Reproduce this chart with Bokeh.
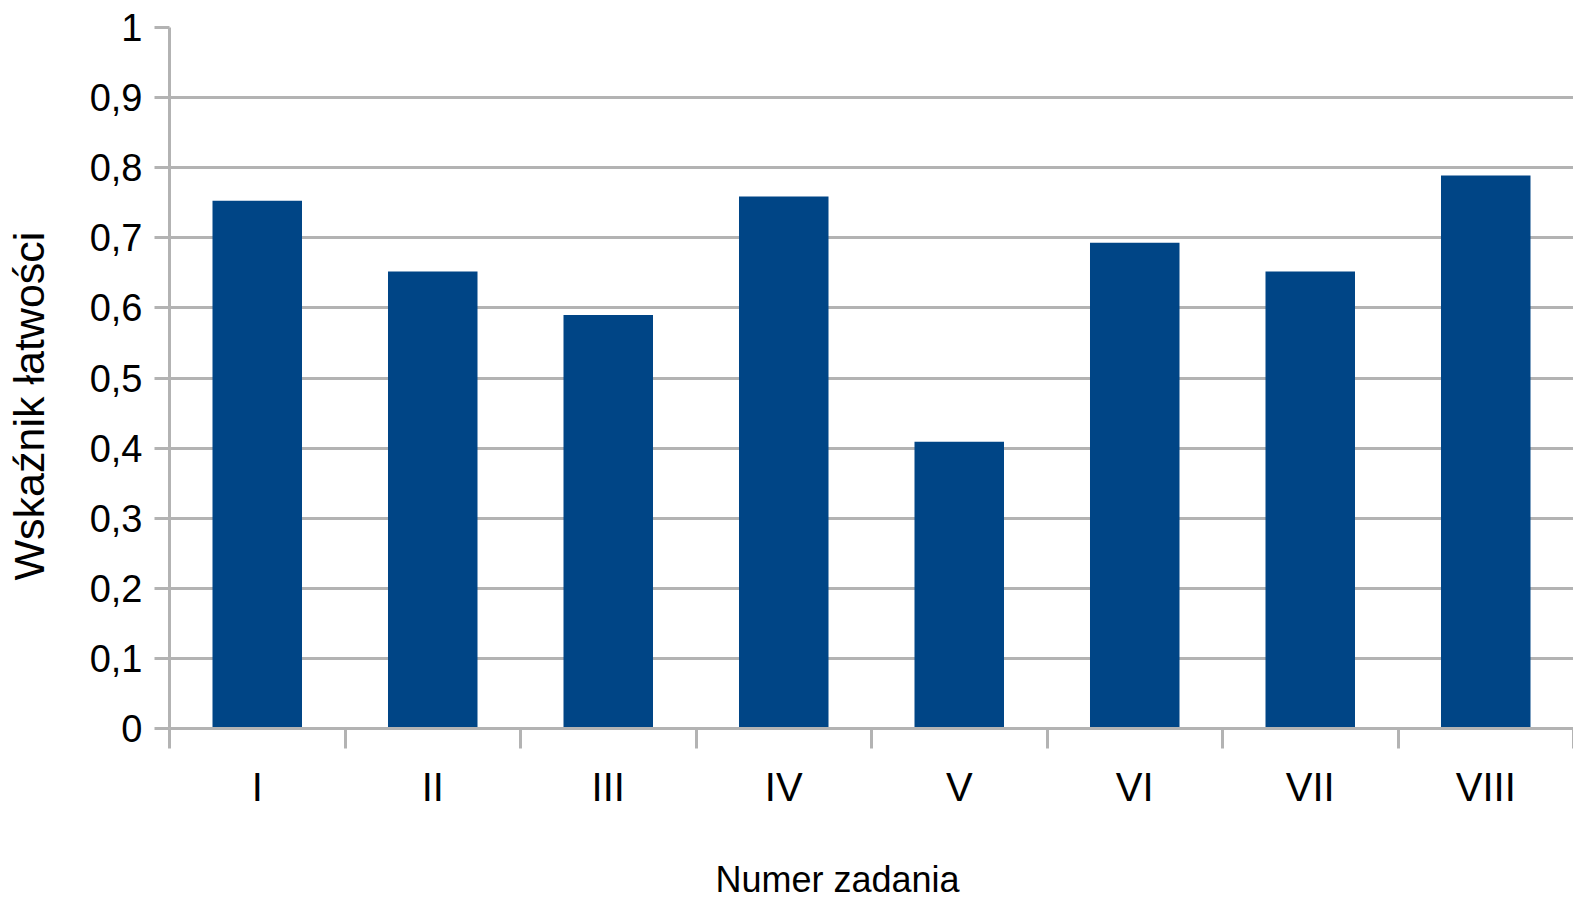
from bokeh.plotting import figure
from bokeh.models import FixedTicker, Range1d, Title, ColumnDataSource
from bokeh.embed import file_html
from bokeh.resources import INLINE

# ---- data ----
categories = ["I", "II", "III", "IV", "V", "VI", "VII", "VIII"]
values = [0.753, 0.652, 0.590, 0.759, 0.409, 0.693, 0.652, 0.789]
y_ticks = [0.0, 0.1, 0.2, 0.3, 0.4, 0.5, 0.6, 0.7, 0.8, 0.9, 1.0]
y_tick_labels = ["0", "0,1", "0,2", "0,3", "0,4", "0,5", "0,6", "0,7", "0,8", "0,9", "1"]
x_title = "Numer zadania"
y_title = "Wskaźnik łatwości"

FONT = "Liberation Sans"
GRID = "#b3b3b3"
BAR = "#004586"

n = len(categories)
xs = [i + 0.5 for i in range(n)]
src = ColumnDataSource(dict(x=xs, top=values, cat=categories))

p = figure(width=1573, height=899, output_backend="svg", toolbar_location=None,
           x_range=Range1d(0, n), y_range=Range1d(0, 1),
           min_border_left=169, min_border_top=27, min_border_bottom=171, min_border_right=0)
p.frame_height = 701
p.frame_width = 1404
p.outline_line_color = None
p.background_fill_color = "white"
p.border_fill_color = "white"

p.vbar(x="x", top="top", width=0.51, bottom=0, source=src, fill_color=BAR, line_color=None)

# y axis
p.yaxis.ticker = FixedTicker(ticks=y_ticks, minor_ticks=[])
p.yaxis.major_label_overrides = {t: l for t, l in zip(y_ticks, y_tick_labels)}
p.yaxis.major_label_text_font = FONT
p.yaxis.major_label_text_font_size = "38px"
p.yaxis.major_label_text_color = "black"
p.yaxis.major_label_standoff = 12
p.yaxis.major_tick_out = 15
p.yaxis.major_tick_in = 0
p.yaxis.major_tick_line_color = GRID
p.yaxis.major_tick_line_width = 3
p.yaxis.minor_tick_line_color = None
p.yaxis.axis_line_color = GRID
p.yaxis.axis_line_width = 3
# blank axis label used only as spacing before the title
p.yaxis.axis_label = " "
p.yaxis.axis_label_text_font_size = "1px"
p.yaxis.axis_label_standoff = 30

# x axis: labels at centers, boundary ticks as minor ticks
p.xaxis.ticker = FixedTicker(ticks=xs, minor_ticks=list(range(n + 1)))
p.xaxis.major_label_overrides = {x: c for x, c in zip(xs, categories)}
p.xaxis.major_label_text_font = FONT
p.xaxis.major_label_text_font_size = "40px"
p.xaxis.major_label_text_color = "black"
p.xaxis.major_label_standoff = 16
p.xaxis.major_tick_line_color = None
p.xaxis.major_tick_out = 0
p.xaxis.minor_tick_out = 20
p.xaxis.minor_tick_in = 0
p.xaxis.minor_tick_line_color = GRID
p.xaxis.minor_tick_line_width = 3
p.xaxis.axis_line_color = GRID
p.xaxis.axis_line_width = 3
p.xaxis.axis_label = " "
p.xaxis.axis_label_text_font_size = "1px"
p.xaxis.axis_label_standoff = 41

p.xgrid.grid_line_color = None
p.ygrid.grid_line_color = GRID
p.ygrid.grid_line_width = 3

p.add_layout(Title(text=x_title, align="left", offset=546, standoff=0,
                   text_font=FONT, text_font_size="36px", text_font_style="normal",
                   text_color="black"), "below")
p.add_layout(Title(text=y_title, align="left", offset=148, standoff=0,
                   text_font=FONT, text_font_size="43px", text_font_style="normal",
                   text_color="black"), "left")

open("out.html", "w").write(file_html(p, INLINE))
